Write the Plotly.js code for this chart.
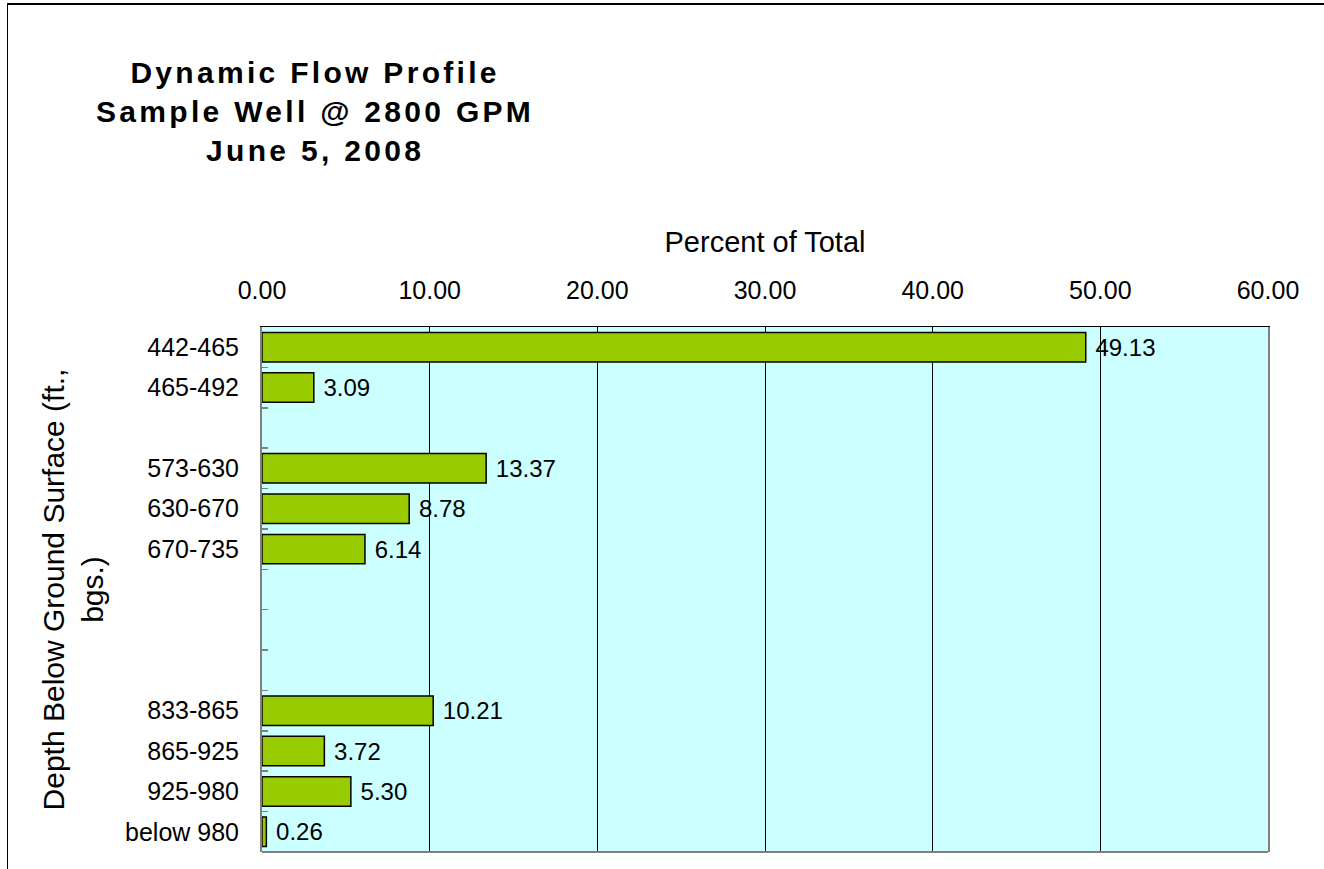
<!DOCTYPE html>
<html>
<head>
<meta charset="utf-8">
<script src="https://cdn.plot.ly/plotly-3.0.1.min.js"></script>
<style>
  html, body { margin: 0; padding: 0; background: #fff; }
  #wrap { position: relative; width: 1324px; height: 869px; overflow: hidden; }
  #chart { width: 1324px; height: 869px; }
  #frame { position: absolute; left: 7px; top: 3px; width: 1400px; height: 900px;
           border-top: 2px solid #000; border-left: 1.5px solid #000; pointer-events: none; }
  .gtitle { letter-spacing: 3.3px; }
</style>
</head>
<body>
<div id="wrap"><div id="chart"></div><div id="frame"></div></div>
<script>
// Depth intervals (blank entries are empty slots on the axis)
const depthLabels = ['442-465', '465-492', ' ', '573-630', '630-670', '670-735', '  ', '   ', '    ', '833-865', '865-925', '925-980', 'below 980'];
const percentValues = [49.13, 3.09, null, 13.37, 8.78, 6.14, null, null, null, 10.21, 3.72, 5.30, 0.26];
const xTickValues = [0, 10, 20, 30, 40, 50, 60];
const titleLines = ['Dynamic Flow Profile', 'Sample Well @ 2800 GPM', 'June 5, 2008'];
const xTitle = 'Percent of Total';
const yTitle = 'Depth Below Ground Surface (ft.,<br>bgs.)';

const FONT = 'Liberation Sans, Arial, sans-serif';

const trace = {
  type: 'bar',
  orientation: 'h',
  x: percentValues,
  y: depthLabels,
  text: percentValues.map(v => v == null ? '' : '\u00A0' + v.toFixed(2)),
  textposition: 'outside',
  cliponaxis: false,
  textfont: { family: FONT, size: 24, color: '#000' },
  marker: { color: '#99CC00', line: { color: '#000', width: 1.5 } },
  hoverinfo: 'none'
};

const layout = {
  width: 1324, height: 869,
  margin: { l: 262, r: 56, t: 327, b: 17 },
  paper_bgcolor: '#fff',
  plot_bgcolor: '#CCFFFF',
  showlegend: false,
  bargap: 0.27,
  font: { family: FONT, color: '#000' },
  title: {
    text: titleLines.join('<br>'),
    font: { family: FONT, size: 30, color: '#000', weight: 'bold' },
    xref: 'container', x: 0.238, xanchor: 'center',
    yref: 'container', y: 0.905, yanchor: 'top'
  },
  xaxis: {
    side: 'top',
    range: [0, 60],
    tickvals: xTickValues,
    tickformat: '.2f',
    tickfont: { family: FONT, size: 25, color: '#000' },
    ticks: '',
    ticklabelstandoff: 17,
    showgrid: true, gridcolor: '#000', gridwidth: 1,
    zeroline: false,
    showline: true, linecolor: '#000', linewidth: 1.5,
    title: { text: xTitle, font: { family: FONT, size: 29, color: '#000' }, standoff: 14 },
    fixedrange: true
  },
  yaxis: {
    type: 'category',
    categoryorder: 'array',
    categoryarray: depthLabels,
    autorange: 'reversed',
    tickson: 'boundaries',
    ticks: 'inside', ticklen: 6, tickcolor: '#808080', tickwidth: 1.5,
    tickfont: { family: FONT, size: 25, color: '#000' },
    ticklabelstandoff: 16,
    showgrid: false, zeroline: false,
    showline: true, linecolor: '#808080', linewidth: 2, mirror: true,
    title: { text: yTitle, font: { family: FONT, size: 30, color: '#000' }, standoff: 13 },
    fixedrange: true
  },
  shapes: [
    { type: 'line', xref: 'paper', yref: 'paper', x0: 0, x1: 1, y0: 0, y1: 0,
      line: { color: '#808080', width: 2 } }
  ]
};

Plotly.newPlot('chart', [trace], layout, { displayModeBar: false, staticPlot: true });
</script>
</body>
</html>
